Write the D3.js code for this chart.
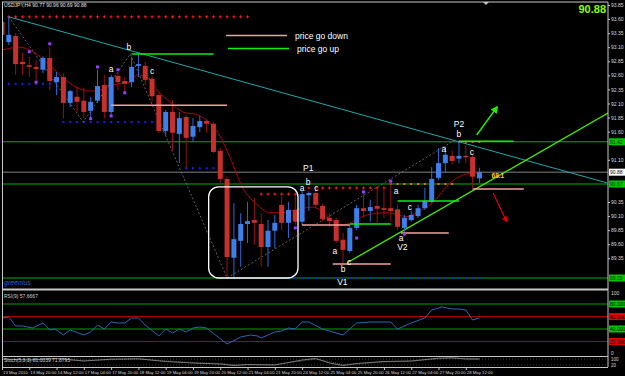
<!DOCTYPE html>
<html>
<head>
<meta charset="utf-8">
<script src="https://cdn.jsdelivr.net/npm/d3@7"></script>
<style>
  html, body { margin: 0; padding: 0; background: #000; }
  svg { display: block; font-family: "Liberation Sans", Arial, sans-serif; }
</style>
</head>
<body>
<svg id="chart" width="625" height="376"></svg>
<script>
// ---- data ----
const titleText = "USDJPY,H4  90.77 90.96 90.69 90.88";
const lastPrice = 90.88;

const opens  = [93.55,93.19,93.30,92.84,92.78,92.75,92.70,92.91,92.48,92.57,92.11,92.22,92.15,91.97,92.15,92.43,91.95,92.59,92.50,92.48,
                92.77,92.77,92.54,92.25,91.61,91.95,91.56,91.86,91.51,91.68,91.79,91.74,91.26,90.76,89.36,89.66,89.96,90.03,89.96,89.55,
                89.84,90.30,89.98,90.21,90.00,90.47,90.51,90.28,90.07,90.03,89.68,89.48,89.89,90.24,90.19,90.28,90.24,90.24,90.22,89.89,
                90.03,90.10,90.24,90.35,90.78,91.04,91.17,91.12,91.17,91.15,90.77];
const highs  = [93.62,93.64,93.35,93.00,92.93,92.87,92.94,93.10,92.66,92.64,92.34,92.41,92.38,92.22,92.70,92.61,92.61,92.66,92.57,92.93,
                92.98,92.84,92.59,92.29,91.98,92.16,91.95,91.90,91.84,91.88,91.81,91.77,91.31,90.80,90.33,90.15,90.35,90.42,90.15,90.03,
                90.12,90.44,90.35,90.48,90.56,90.54,90.56,90.32,90.15,90.07,89.80,89.94,90.30,90.51,90.39,90.60,90.60,90.74,90.30,90.12,
                90.19,90.30,90.60,90.97,91.31,91.33,91.26,91.42,91.36,91.19,90.96];
const lows   = [93.25,93.14,92.61,92.61,92.57,92.52,92.64,92.34,92.25,91.84,92.04,91.93,91.84,91.81,92.11,91.84,91.91,92.34,92.30,92.39,
                92.57,92.43,92.13,91.58,91.54,91.27,91.04,90.96,91.42,91.59,91.58,91.22,90.69,89.00,89.02,89.20,89.62,89.59,89.20,89.20,
                89.53,89.85,89.71,89.94,89.94,90.19,90.26,90.01,89.91,89.62,89.25,89.45,89.85,90.07,90.00,89.98,90.07,90.00,89.85,89.80,
                90.00,90.07,90.21,90.33,90.74,90.87,91.01,91.04,91.04,90.60,90.69];
const closes = [93.32,93.32,92.80,92.80,92.75,92.71,92.91,92.50,92.57,92.11,92.32,92.13,91.95,92.13,92.41,91.95,92.57,92.48,92.45,92.75,
                92.80,92.52,92.23,91.61,91.95,91.58,91.84,91.49,91.70,91.79,91.74,91.24,90.76,89.37,89.69,89.96,90.01,89.98,89.55,89.84,
                89.98,89.98,90.21,90.00,90.49,90.51,90.30,90.05,90.01,89.66,89.50,89.89,90.24,90.19,90.26,90.23,90.21,90.19,89.91,90.07,
                90.12,90.24,90.37,90.76,91.04,91.19,91.08,91.17,91.15,90.80,90.88];

// time labels every 4 bars, starting at bar 0
const timeLabels = ["13 May 2010","13 May 20:00","14 May 12:00","17 May 04:00","17 May 20:00","18 May 12:00","19 May 04:00",
                    "19 May 20:00","20 May 12:00","21 May 04:00","21 May 20:00","24 May 12:00","25 May 04:00","25 May 20:00",
                    "26 May 12:00","27 May 04:00","27 May 20:00","28 May 12:00"];
const priceTicks = [93.85,93.60,93.35,93.10,92.85,92.60,92.35,92.10,91.85,91.60,91.35,91.10,90.85,90.60,90.35,90.10,89.85,89.60,89.35,89.10];

// moving average (bar, price)
const maBars   = [0,2.6,4.5,7,8.8,11,12.9,14.4,16.3,18.8,19.8,21.4,22.7,24.6,26.5,28.6,30.5,32,33.4,35.3,37.4,39.3,41.2,43.7,45.6,47.1,49.5,50.6,53.5,56.4,59.4,60.8,63.2,65.7,68.2,70.1];
const maValues = [93.05,93.10,93.02,92.78,92.57,92.38,92.32,92.34,92.43,92.48,92.61,92.55,92.34,92.13,91.95,91.90,91.75,91.51,91.15,90.60,90.30,90.16,90.16,90.23,90.26,90.17,89.94,89.96,90.12,90.16,90.09,90.16,90.35,90.69,90.85,90.87];

// zigzag (bar, price)
const zigBars   = [1, 11.9, 18.8, 33, 66.4];
const zigValues = [93.64, 91.77, 92.98, 89.00, 91.45];

// full-width horizontal levels
const levelPrices = [91.42, 90.67, 89.00];
const levelLabels = ["91.42", "90.67", "89.00"];

// short horizontal lines: start bar, end bar, price
const goUpStart = [19, 51, 58, 67];
const goUpEnd   = [31, 57, 67, 75];
const goUpPrice = [92.98, 89.96, 90.37, 91.43];
const goDownStart = [16, 44, 48.5, 58.5, 69];
const goDownEnd   = [33, 51, 57, 65.5, 76.5];
const goDownPrice = [92.07, 89.94, 89.25, 89.80, 90.58];

// dotted level markers: start bar, end bar, price, kind
const dotStart = [1, 0, 9, 26.5, 37.8, 44.7, 57, 66.5, 33];
const dotEnd   = [36, 7.8, 26.4, 32, 43.2, 56.6, 66, 70, 70];
const dotPrice = [93.64, 92.45, 91.77, 90.95, 90.49, 90.60, 90.67, 91.42, 89.00];
const dotKind  = ["red", "blue", "blue", "blue", "red", "red", "orange", "orange", "blue"];

// fractal markers
const fracBars   = [4, 5, 7, 13, 14, 16, 17, 18, 43, 52, 53, 57, 59];
const fracPrices = [93.02, 92.48, 93.16, 91.83, 92.75, 91.88, 92.70, 92.29, 89.89, 89.71, 90.53, 90.72, 89.78];

// text annotations
const noteText   = ["b","a","c","P1","b","a","c","a","b","c","V1","a","c","a","V2","a","P2","b","c"];
const noteBars   = [18.6,16,22,44.9,44.9,44,46.1,48.8,50,50.9,49.9,57.8,59.8,58.5,58.7,64.8,67,67,68.9];
const notePrices = [93.10,92.71,92.68,90.95,90.71,90.60,90.60,89.48,89.16,89.28,88.93,90.55,90.26,89.71,89.55,91.29,91.74,91.56,91.24];

// trend lines (bar, price) pairs
const channelLine = [[1, 93.64], [88.7, 90.69]];
const supportLine = [[50.6, 89.27], [88.85, 91.93]];
const upArrow   = [[69.6, 91.54], [72.6, 92.04]];
const downArrow = [[72.0, 90.51], [74.0, 90.00]];
const boxBars = [30.3, 43.4];
const boxPrices = [90.62, 89.00];

// RSI(9)
const rsiBars   = [0,1,2,3,4.5,6,7,7.8,9,10,12,13,14,15,16,17,18,19,20,21,23,24,25,26,27,28,29,30,33,35,36.4,37.5,38,40,41,42,43,44,45,46.4,47,50,52,54,57,58,60,62,63,64.5,66,67,68,69,70];
const rsiValues = [57.6,59.2,44.8,44.8,41.6,49.6,38.4,40,30.4,38.4,30.4,35.2,46.4,40,51.2,49.6,49.6,57.6,57.6,46.4,28.8,40,33.6,40,35.2,41.6,43.2,41.6,16,27.2,30.4,28.8,25.6,35.2,36.8,41.6,40,51.2,51.2,43.2,40,30.4,49.6,51.2,51.2,40,49.6,57.6,70.4,75.2,72,72,70.4,54.4,57.7];
const rsiLevels = [80, 60, 40, 20];

// Stochastic(5,3,3)
const stochBars   = [0,4,8,12,16,20,24,28,32,34,36,40,44,46,48,50,52,56,60,64,66,68,70];
const stochMain   = [80,70,85,60,78,82,55,40,30,15,25,20,70,85,40,15,35,55,60,88,92,80,81];
const stochSignal = [75,75,80,68,72,80,62,45,35,22,22,25,60,78,55,25,30,50,58,80,88,85,72];

// ---- layout ----
const W = 625, H = 376;
const right = 608;
const x = d3.scaleLinear().domain([0, 88.85]).range([2, right]);
const y = d3.scaleLinear().domain([89.00, 93.85]).range([278, 5]);
const yRsi = d3.scaleLinear().domain([0, 100]).range([354, 291.5]);
const yStoch = d3.scaleLinear().domain([0, 100]).range([367, 357]);

const svg = d3.select('#chart');
svg.append('rect').attr('width', W).attr('height', H).attr('fill', '#000');

const defs = svg.append('defs');
defs.append('clipPath').attr('id', 'clipMain').append('rect').attr('x', 2).attr('y', 2).attr('width', right - 2).attr('height', 286);
defs.append('clipPath').attr('id', 'clipRsi').append('rect').attr('x', 2).attr('y', 290).attr('width', right - 2).attr('height', 66);
defs.append('clipPath').attr('id', 'clipStoch').append('rect').attr('x', 2).attr('y', 357).attr('width', right - 2).attr('height', 10);
const marker = (id, color) => defs.append('marker').attr('id', id).attr('viewBox', '0 0 10 10')
  .attr('refX', 8).attr('refY', 5).attr('markerWidth', 5).attr('markerHeight', 5).attr('orient', 'auto')
  .append('path').attr('d', 'M0,0 L10,5 L0,10 z').attr('fill', color);
marker('arrUp', '#22ee00');
marker('arrDown', '#e00000');

const main = svg.append('g').attr('clip-path', 'url(#clipMain)');

// full-width levels
main.selectAll('.lvl').data(levelPrices).join('line')
  .attr('x1', 2).attr('x2', right).attr('y1', d => y(d)).attr('y2', d => y(d))
  .attr('stroke', '#00b000').attr('stroke-width', 1);
// bid line
main.append('line').attr('x1', 2).attr('x2', right).attr('y1', y(lastPrice)).attr('y2', y(lastPrice))
  .attr('stroke', '#808080').attr('stroke-width', 1);

// dotted level markers
const dotColor = { red: '#ff1a1a', blue: '#1a1aff', orange: '#ff6a00' };
dotPrice.forEach((p, k) => {
  const bs = d3.range(Math.ceil(dotStart[k]), Math.floor(dotEnd[k]) + 1);
  const g = main.append('g');
  if (dotKind[k] === 'red') {
    g.selectAll('path').data(bs).join('path')
      .attr('d', b => `M${x(b) - 1.5},${y(p)}h3M${x(b)},${y(p) - 1.5}v3`)
      .attr('stroke', dotColor.red).attr('stroke-width', 1);
  } else {
    g.selectAll('rect').data(bs).join('rect')
      .attr('x', b => x(b) - 1).attr('y', y(p) - 1).attr('width', 2).attr('height', 2)
      .attr('fill', dotColor[dotKind[k]]);
  }
});

// zigzag
main.append('path')
  .attr('d', d3.line().x(d => x(d[0])).y(d => y(d[1]))(zigBars.map((b, k) => [b, zigValues[k]])))
  .attr('fill', 'none').attr('stroke', '#7a7a7a').attr('stroke-width', 0.8).attr('stroke-dasharray', '2,2');

// trend lines
const seg = (pts, color, w) => main.append('line')
  .attr('x1', x(pts[0][0])).attr('y1', y(pts[0][1])).attr('x2', x(pts[1][0])).attr('y2', y(pts[1][1]))
  .attr('stroke', color).attr('stroke-width', w);
seg(channelLine, '#20a8a8', 1);
seg(supportLine, '#44ee00', 1.3);

// moving average
main.append('path')
  .attr('d', d3.line().curve(d3.curveMonotoneX).x(d => x(d[0])).y(d => y(d[1]))(maBars.map((b, k) => [b, maValues[k]])))
  .attr('fill', 'none').attr('stroke', '#b00000').attr('stroke-width', 1);

// candles
const bars = opens.map((o, i) => ({ i, o, h: highs[i], l: lows[i], c: closes[i] }));
const candle = main.selectAll('.candle').data(bars).join('g').attr('class', 'candle');
candle.append('line')
  .attr('x1', d => x(d.i)).attr('x2', d => x(d.i))
  .attr('y1', d => y(d.h)).attr('y2', d => y(d.l))
  .attr('stroke', d => d.c >= d.o ? '#2a6ad8' : '#9a1010').attr('stroke-width', 1);
candle.append('rect')
  .attr('x', d => x(d.i) - 2.5).attr('width', 5)
  .attr('y', d => y(Math.max(d.o, d.c)))
  .attr('height', d => Math.max(1.5, Math.abs(y(d.o) - y(d.c))))
  .attr('fill', d => d.c >= d.o ? '#3d80ec' : '#c8302c');

// short go-up / go-down lines
goUpPrice.forEach((p, k) => main.append('line')
  .attr('x1', x(goUpStart[k])).attr('x2', x(goUpEnd[k])).attr('y1', y(p)).attr('y2', y(p))
  .attr('stroke', '#11ee11').attr('stroke-width', 1.5));
goDownPrice.forEach((p, k) => main.append('line')
  .attr('x1', x(goDownStart[k])).attr('x2', x(goDownEnd[k])).attr('y1', y(p)).attr('y2', y(p))
  .attr('stroke', '#f4a0a0').attr('stroke-width', 1.5));

// rounded box
main.append('rect')
  .attr('x', x(boxBars[0])).attr('y', y(boxPrices[0]))
  .attr('width', x(boxBars[1]) - x(boxBars[0])).attr('height', y(boxPrices[1]) - y(boxPrices[0]))
  .attr('rx', 10).attr('fill', 'none').attr('stroke', '#ffffff').attr('stroke-width', 1.3);

// fractals
main.selectAll('.frac').data(fracBars).join('rect')
  .attr('x', (b) => x(b) - 1.5).attr('y', (b, k) => y(fracPrices[k]) - 1.5)
  .attr('width', 3).attr('height', 3).attr('fill', '#9a3cff');

// annotations
main.selectAll('.note').data(noteText).join('text')
  .attr('x', (t, k) => x(noteBars[k])).attr('y', (t, k) => y(notePrices[k]))
  .attr('dy', '0.35em').attr('text-anchor', 'middle')
  .attr('fill', '#ffffff').attr('font-size', 8.5).text(t => t);
main.append('text').attr('x', x(72.7)).attr('y', y(90.81)).attr('dy', '0.35em').attr('text-anchor', 'middle')
  .attr('fill', '#ffd400').attr('font-size', 6.5).attr('font-weight', 'bold').text('68.1');

// arrows
main.append('line').attr('x1', x(upArrow[0][0])).attr('y1', y(upArrow[0][1])).attr('x2', x(upArrow[1][0])).attr('y2', y(upArrow[1][1]))
  .attr('stroke', '#22ee00').attr('stroke-width', 1.5).attr('marker-end', 'url(#arrUp)');
main.append('line').attr('x1', x(downArrow[0][0])).attr('y1', y(downArrow[0][1])).attr('x2', x(downArrow[1][0])).attr('y2', y(downArrow[1][1]))
  .attr('stroke', '#e00000').attr('stroke-width', 1.2).attr('marker-end', 'url(#arrDown)');

// legend (screen anchored)
const legend = svg.append('g');
legend.append('line').attr('x1', 226).attr('x2', 287).attr('y1', 35.5).attr('y2', 35.5).attr('stroke', '#f4a0a0').attr('stroke-width', 1.5);
legend.append('line').attr('x1', 228).attr('x2', 289).attr('y1', 48.5).attr('y2', 48.5).attr('stroke', '#11ee11').attr('stroke-width', 1.5);
legend.append('text').attr('x', 295).attr('y', 38.5).attr('fill', '#fff').attr('font-size', 8.5).text('price go down');
legend.append('text').attr('x', 297).attr('y', 51.5).attr('fill', '#fff').attr('font-size', 8.5).text('price go up');

// title, big price, signature
svg.append('text').attr('x', 4).attr('y', 7).attr('fill', '#e0e0e0').attr('font-size', 5).text(titleText);
svg.append('text').attr('x', 606).attr('y', 13).attr('text-anchor', 'end').attr('fill', '#88ff00')
  .attr('font-size', 11).attr('font-weight', 'bold').text(d3.format('.2f')(lastPrice));
svg.append('text').attr('x', 4).attr('y', 285).attr('fill', '#2e5fd0').attr('font-size', 7)
  .attr('font-style', 'italic').text('greenius');
svg.append('path').attr('d', 'M483,2 L489,2 L486,5 z').attr('fill', '#c0c0c0');

// ---- RSI pane ----
const rsiG = svg.append('g').attr('clip-path', 'url(#clipRsi)');
rsiG.selectAll('line').data(rsiLevels).join('line')
  .attr('x1', 2).attr('x2', right).attr('y1', d => yRsi(d)).attr('y2', d => yRsi(d))
  .attr('stroke', (d, k) => k % 2 === 0 ? '#00a000' : '#b00000').attr('stroke-width', 1);
rsiG.append('path')
  .attr('d', d3.line().x(d => x(d[0])).y(d => yRsi(d[1]))(rsiBars.map((b, k) => [b, rsiValues[k]])))
  .attr('fill', 'none').attr('stroke', '#2a68b8').attr('stroke-width', 1);
svg.append('text').attr('x', 4).attr('y', 298).attr('fill', '#d0d0d0').attr('font-size', 5)
  .text('RSI(9) ' + d3.format('.4f')(rsiValues[rsiValues.length - 1] - 0.0333));

// ---- Stochastic pane ----
const stG = svg.append('g').attr('clip-path', 'url(#clipStoch)');
[80, 20].forEach(v => stG.append('line').attr('x1', 2).attr('x2', right).attr('y1', yStoch(v)).attr('y2', yStoch(v))
  .attr('stroke', '#606060').attr('stroke-width', 0.6).attr('stroke-dasharray', '1,2'));
stG.append('path')
  .attr('d', d3.line().x(d => x(d[0])).y(d => yStoch(d[1]))(stochBars.map((b, k) => [b, stochMain[k]])))
  .attr('fill', 'none').attr('stroke', '#b0b0b0').attr('stroke-width', 0.7);
stG.append('path')
  .attr('d', d3.line().x(d => x(d[0])).y(d => yStoch(d[1]))(stochBars.map((b, k) => [b, stochSignal[k]])))
  .attr('fill', 'none').attr('stroke', '#808080').attr('stroke-width', 0.6).attr('stroke-dasharray', '1,1');
svg.append('text').attr('x', 4).attr('y', 362).attr('fill', '#d0d0d0').attr('font-size', 5)
  .text('Stoch(5,3,3) 81.0039 71.8795');

// ---- frames ----
const frame = svg.append('g').attr('stroke', '#c8c8c8').attr('fill', 'none');
frame.append('line').attr('x1', 2).attr('x2', right).attr('y1', 2).attr('y2', 2);
frame.append('line').attr('x1', 2.5).attr('x2', 2.5).attr('y1', 2).attr('y2', 367);
frame.append('line').attr('x1', right).attr('x2', right).attr('y1', 2).attr('y2', 367);
frame.append('line').attr('x1', 2).attr('x2', right).attr('y1', 289.5).attr('y2', 289.5).attr('stroke-width', 2);
frame.append('line').attr('x1', 2).attr('x2', right).attr('y1', 356.5).attr('y2', 356.5);
frame.append('line').attr('x1', 2).attr('x2', right).attr('y1', 367.5).attr('y2', 367.5);

// ---- price axis ----
const boxes = [lastPrice].concat(levelPrices);
const shownTicks = priceTicks.filter(t => boxes.every(b => Math.abs(y(t) - y(b)) > 7));
const yAxis = svg.append('g').attr('transform', `translate(${right},0)`)
  .call(d3.axisRight(y).tickValues(shownTicks).tickFormat(d3.format('.2f')).tickSize(2));
yAxis.select('.domain').remove();
yAxis.selectAll('line').attr('stroke', '#c8c8c8');
yAxis.selectAll('text').attr('fill', '#d8d8d8').attr('font-size', 5).attr('x', 3);

const priceBox = (val, label, bg, fg) => {
  svg.append('rect').attr('x', right + 1).attr('y', val - 3.5).attr('width', 16).attr('height', 7).attr('fill', bg);
  svg.append('text').attr('x', right + 2).attr('y', val + 2).attr('fill', fg).attr('font-size', 5).text(label);
};
levelPrices.forEach((p, k) => priceBox(y(p), levelLabels[k], '#00c800', '#003000'));
priceBox(y(lastPrice), d3.format('.2f')(lastPrice), '#ffffff', '#000000');

// RSI axis
svg.append('text').attr('x', right + 3).attr('y', yRsi(100) + 3).attr('fill', '#d8d8d8').attr('font-size', 5).text('100');
svg.append('text').attr('x', right + 3).attr('y', yRsi(0) + 1).attr('fill', '#d8d8d8').attr('font-size', 5).text('0');
rsiLevels.forEach((v, k) => priceBox(yRsi(v), d3.format('.3f')(v), k % 2 === 0 ? '#00c800' : '#e00000', '#000'));
// Stoch axis
svg.append('text').attr('x', right + 3).attr('y', 361).attr('fill', '#d8d8d8').attr('font-size', 4.5).text('100');
svg.append('text').attr('x', right + 3).attr('y', 367).attr('fill', '#d8d8d8').attr('font-size', 4.5).text('20');

// ---- time axis ----
const timeBars = timeLabels.map((t, k) => k * 4);
const xAxis = svg.append('g').attr('transform', 'translate(0,367.5)')
  .call(d3.axisBottom(x).tickValues(timeBars).tickFormat((d, k) => timeLabels[k]).tickSize(2.5));
xAxis.select('.domain').remove();
xAxis.selectAll('line').attr('stroke', '#c8c8c8');
xAxis.selectAll('text').attr('fill', '#d8d8d8').attr('font-size', 4.3).attr('text-anchor', 'start').attr('x', 0.5).attr('y', 3);
</script>
</body>
</html>
